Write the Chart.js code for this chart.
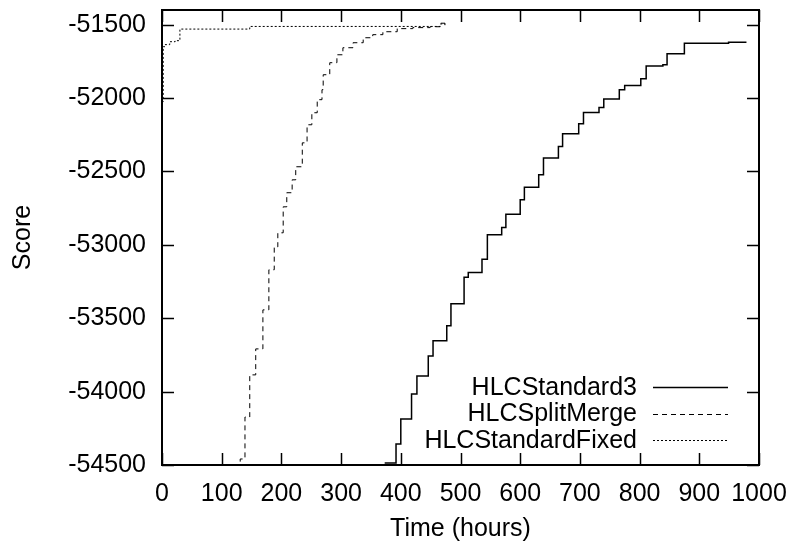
<!DOCTYPE html>
<html>
<head>
<meta charset="utf-8">
<script src="https://cdn.jsdelivr.net/npm/chart.js@4/dist/chart.umd.min.js"></script>
<style>
  html, body { margin: 0; padding: 0; background: #fff; }
  #wrap { width: 795px; height: 550px; }
</style>
</head>
<body>
<div id="wrap"><canvas id="scoreChart" width="795" height="550"></canvas></div>
<script>
// step data: time (hours) where the score jumps, and the score after the jump
const std3Time = [373, 392, 400, 418, 427, 446, 454, 477, 484, 506, 513, 536, 545, 569, 576, 600, 607, 631, 639, 664, 671, 698, 706, 732, 740, 766, 775, 802, 811, 839, 846, 875, 949, 979];
const std3Score = [-54486, -54357, -54186, -54016, -53893, -53757, -53653, -53552, -53402, -53220, -53189, -53098, -52932, -52882, -52791, -52693, -52608, -52523, -52409, -52330, -52243, -52175, -52098, -52064, -52007, -51943, -51914, -51868, -51782, -51773, -51698, -51627, -51620, -51620];

const splitTime = [129, 131, 139, 147, 157, 169, 179, 188, 194, 203, 209, 218, 224, 235, 243, 251, 260, 268, 270, 281, 293, 303, 320, 337, 353, 370, 394, 420, 449, 466, 474];
const splitScore = [-54530, -54459, -54173, -53886, -53709, -53443, -53170, -53014, -52918, -52741, -52645, -52557, -52468, -52305, -52182, -52100, -52011, -51943, -51841, -51759, -51705, -51657, -51623, -51589, -51568, -51548, -51527, -51520, -51514, -51490, -51507];

const fixedTime = [0, 2, 5, 13, 22, 30, 147, 466, 474];
const fixedScore = [-52025, -51650, -51636, -51616, -51609, -51530, -51512, -51495, -51505];

const xTicks = [0, 100, 200, 300, 400, 500, 600, 700, 800, 900, 1000];
const yTicks = [-54500, -54000, -53500, -53000, -52500, -52000, -51500];

const fontFamily = '"Liberation Sans", Arial, Helvetica, sans-serif';
const fontSize = 25;

function toPoints(times, scores) {
  return times.map((t, i) => ({ x: t, y: scores[i] }));
}

// gnuplot style box with inward ticks on all four sides
const frameTicks = {
  id: 'frameTicks',
  afterDatasetsDraw(chart) {
    const { ctx, chartArea: a, scales: { x, y } } = chart;
    const len = 12;
    ctx.save();
    ctx.strokeStyle = '#000';
    ctx.lineWidth = 1.5;
    ctx.setLineDash([]);
    ctx.beginPath();
    xTicks.forEach(v => {
      const px = Math.round(x.getPixelForValue(v)) + 0.5;
      ctx.moveTo(px, a.bottom); ctx.lineTo(px, a.bottom - len);
      ctx.moveTo(px, a.top); ctx.lineTo(px, a.top + len);
    });
    yTicks.forEach(v => {
      const py = Math.round(y.getPixelForValue(v)) + 0.5;
      ctx.moveTo(a.left, py); ctx.lineTo(a.left + len, py);
      ctx.moveTo(a.right, py); ctx.lineTo(a.right - len, py);
    });
    ctx.stroke();
    ctx.lineWidth = 2;
    ctx.strokeRect(a.left, a.top, a.right - a.left, a.bottom - a.top);
    ctx.restore();
  }
};

// legend inside the plot, text right aligned with the line sample after it
const sideLegend = {
  id: 'sideLegend',
  afterDraw(chart) {
    const { ctx, chartArea: a } = chart;
    ctx.save();
    ctx.font = fontSize + 'px ' + fontFamily;
    ctx.textAlign = 'right';
    ctx.textBaseline = 'middle';
    ctx.fillStyle = '#000';
    chart.data.datasets.forEach((ds, i) => {
      const yy = a.bottom - 78 + i * 26.5;
      ctx.fillText(ds.label, a.right - 122, yy + 1);
      ctx.strokeStyle = ds.borderColor;
      ctx.lineWidth = ds.borderWidth;
      ctx.setLineDash(ds.borderDash || []);
      ctx.beginPath();
      ctx.moveTo(a.right - 106, Math.round(yy) + 0.5);
      ctx.lineTo(a.right - 31, Math.round(yy) + 0.5);
      ctx.stroke();
    });
    ctx.restore();
  }
};

new Chart(document.getElementById('scoreChart').getContext('2d'), {
  type: 'line',
  data: {
    datasets: [
      {
        label: 'HLCStandard3',
        data: toPoints(std3Time, std3Score),
        borderColor: '#000',
        borderWidth: 1.5,
        stepped: true, // horizontal first, then the jump (gnuplot "steps")
        pointRadius: 0,
        fill: false
      },
      {
        label: 'HLCSplitMerge',
        data: toPoints(splitTime, splitScore),
        borderColor: '#000',
        borderWidth: 1,
        borderDash: [5, 4],
        stepped: true,
        pointRadius: 0,
        fill: false
      },
      {
        label: 'HLCStandardFixed',
        data: toPoints(fixedTime, fixedScore),
        borderColor: '#000',
        borderWidth: 1,
        borderDash: [2, 2],
        stepped: true,
        pointRadius: 0,
        fill: false
      }
    ]
  },
  options: {
    responsive: false,
    animation: false,
    devicePixelRatio: 1,
    layout: { padding: { left: 0, top: 10, right: 36, bottom: 0 } },
    scales: {
      x: {
        type: 'linear',
        min: 0,
        max: 1000,
        grid: { display: false, drawTicks: false },
        border: { display: false },
        afterBuildTicks: s => { s.ticks = xTicks.map(v => ({ value: v })); },
        afterFit: s => { s.height = 85; s.paddingLeft = 0; s.paddingRight = 0; },
        ticks: {
          padding: 14,
          maxRotation: 0,
          autoSkip: false,
          color: '#000',
          font: { family: fontFamily, size: fontSize },
          callback: v => String(v)
        },
        title: {
          display: true,
          text: 'Time (hours)',
          color: '#000',
          font: { family: fontFamily, size: fontSize },
          padding: { top: 0, bottom: 6 }
        }
      },
      y: {
        type: 'linear',
        min: -54500,
        max: -51400,
        grid: { display: false, drawTicks: false },
        border: { display: false },
        afterBuildTicks: s => { s.ticks = yTicks.map(v => ({ value: v })); },
        afterFit: s => { s.width = 162; s.paddingTop = 0; s.paddingBottom = 0; },
        ticks: {
          padding: 16,
          autoSkip: false,
          color: '#000',
          font: { family: fontFamily, size: fontSize },
          callback: v => String(v)
        },
        title: {
          display: true,
          text: 'Score',
          color: '#000',
          font: { family: fontFamily, size: fontSize },
          padding: { top: 8, bottom: 0 }
        }
      }
    },
    plugins: {
      legend: { display: false },
      tooltip: { enabled: false }
    }
  },
  plugins: [frameTicks, sideLegend]
});
</script>
</body>
</html>
